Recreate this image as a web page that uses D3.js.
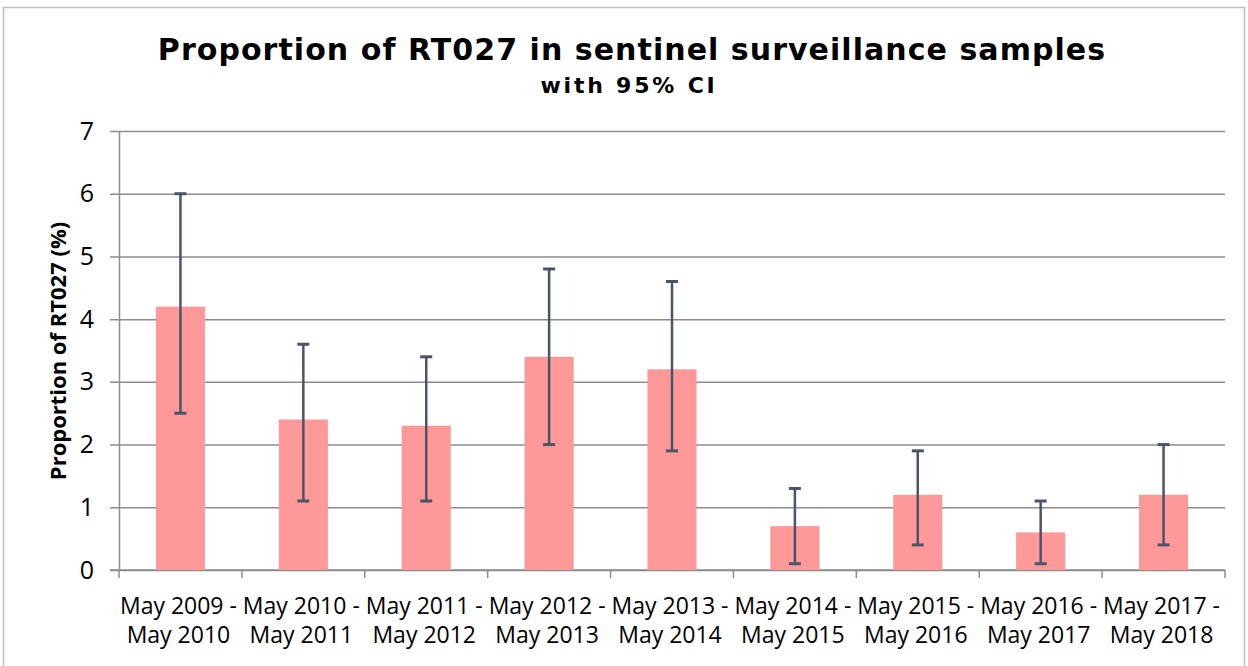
<!DOCTYPE html>
<html>
<head>
<meta charset="utf-8">
<script src="https://cdn.jsdelivr.net/npm/d3@7"></script>
<style>
  body { margin: 0; background: #fff; }
  svg { display: block; }
</style>
</head>
<body>
<div id="chart"></div>
<script>
const categories = [
    ['May 2009 -', 'May 2010'],
    ['May 2010 -', 'May 2011'],
    ['May 2011 -', 'May 2012'],
    ['May 2012 -', 'May 2013'],
    ['May 2013 -', 'May 2014'],
    ['May 2014 -', 'May 2015'],
    ['May 2015 -', 'May 2016'],
    ['May 2016 -', 'May 2017'],
    ['May 2017 -', 'May 2018']
]
const proportion = [4.2, 2.4, 2.3, 3.4, 3.2, 0.7, 1.2, 0.6, 1.2]
const ciLow = [2.5, 1.1, 1.1, 2.0, 1.9, 0.1, 0.4, 0.1, 0.4]
const ciHigh = [6.0, 3.6, 3.4, 4.8, 4.6, 1.3, 1.9, 1.1, 2.0]
const yTicks = [0, 1, 2, 3, 4, 5, 6, 7]

const W = 1248, H = 666
const margin = { left: 119, right: 23, top: 131, bottom: 96 }

const svg = d3.select('#chart')
    .append('svg')
    .attr('width', W)
    .attr('height', H)

// outer chart frame
svg.append('rect')
    .attr('x', 3.5)
    .attr('y', 7.5)
    .attr('width', 1241)
    .attr('height', 700)
    .style('fill', 'none')
    .style('stroke', '#bfbfbf')
    .style('stroke-width', '1.5px')

const keys = categories.map((d, i) => 'c' + i)

const x = d3.scaleBand()
    .domain(keys)
    .range([margin.left, W - margin.right])
    .padding(0)

const y = d3.scaleLinear()
    .domain([0, 7])
    .range([H - margin.bottom, margin.top])

const plotW = x.range()[1] - x.range()[0]

// y axis + gridlines
const yAxis = svg.append('g')
    .attr('transform', `translate(${margin.left},0)`)
    .call(d3.axisLeft(y)
        .tickValues(yTicks)
        .tickFormat(d3.format('d'))
        .tickSize(-plotW)
        .tickSizeOuter(0)
        .tickPadding(25))

yAxis.select('.domain')
    .style('stroke', '#8c8c8c')
    .style('stroke-width', '1.5px')
yAxis.selectAll('.tick line')
    .attr('x1', -9)
    .style('stroke', '#8c8c8c')
    .style('stroke-width', '1.5px')
yAxis.selectAll('.tick text')
    .style('font-family', '"Open Sans", sans-serif')
    .style('font-size', '25px')
    .style('fill', '#000')

// x axis line with ticks at category boundaries
const xAxis = svg.append('g')
xAxis.append('line')
    .attr('x1', x.range()[0] - 9)
    .attr('x2', x.range()[1])
    .attr('y1', y(0))
    .attr('y2', y(0))
    .style('stroke', '#8c8c8c')
    .style('stroke-width', '1.5px')

const bounds = keys.map(k => x(k)).concat([x.range()[1]])
xAxis.selectAll('.xtick')
    .data(bounds)
    .join('line')
    .attr('class', 'xtick')
    .attr('x1', d => d)
    .attr('x2', d => d)
    .attr('y1', y(0))
    .attr('y2', y(0) + 8)
    .style('stroke', '#8c8c8c')
    .style('stroke-width', '1.5px')

const xLabels = xAxis.selectAll('.xlabel')
    .data(categories)
    .join('text')
    .attr('class', 'xlabel')
    .attr('text-anchor', 'middle')
    .style('font-family', '"Open Sans", sans-serif')
    .style('font-size', '23px')
    .style('fill', '#000')

xLabels.append('tspan')
    .attr('x', (d, i) => x(keys[i]) + x.bandwidth() / 2 - 2)
    .attr('y', 614)
    .text(d => d[0])
xLabels.append('tspan')
    .attr('x', (d, i) => x(keys[i]) + x.bandwidth() / 2 - 2)
    .attr('y', 643)
    .text(d => d[1])

// bars
const barW = x.bandwidth() * 0.4
svg.selectAll('.bar')
    .data(proportion)
    .join('rect')
    .attr('class', 'bar')
    .attr('x', (d, i) => x(keys[i]) + (x.bandwidth() - barW) / 2)
    .attr('y', d => y(d))
    .attr('width', barW)
    .attr('height', d => y(0) - y(d))
    .style('fill', '#ff9999')

// error bars
const errColor = '#475569'
const cx = i => x(keys[i]) + x.bandwidth() / 2
const err = svg.append('g')
    .style('stroke', errColor)

err.selectAll('.whisker')
    .data(ciLow)
    .join('line')
    .attr('x1', (d, i) => cx(i))
    .attr('x2', (d, i) => cx(i))
    .attr('y1', d => y(d))
    .attr('y2', (d, i) => y(ciHigh[i]))
    .style('stroke-width', '2.5px')

err.selectAll('.capLow')
    .data(ciLow)
    .join('line')
    .attr('x1', (d, i) => cx(i) - 6)
    .attr('x2', (d, i) => cx(i) + 6)
    .attr('y1', d => y(d))
    .attr('y2', d => y(d))
    .style('stroke-width', '3px')

err.selectAll('.capHigh')
    .data(ciHigh)
    .join('line')
    .attr('x1', (d, i) => cx(i) - 6)
    .attr('x2', (d, i) => cx(i) + 6)
    .attr('y1', d => y(d))
    .attr('y2', d => y(d))
    .style('stroke-width', '3px')

// titles
svg.append('text')
    .attr('x', 632)
    .attr('y', 60)
    .attr('text-anchor', 'middle')
    .style('font-family', '"DejaVu Sans", Verdana, sans-serif')
    .style('font-weight', 'bold')
    .style('font-size', '30px')
    .style('letter-spacing', '1.05px')
    .text('Proportion of RT027 in sentinel surveillance samples')

svg.append('text')
    .attr('x', 629)
    .attr('y', 93)
    .attr('text-anchor', 'middle')
    .style('font-family', '"DejaVu Sans", Verdana, sans-serif')
    .style('font-weight', 'bold')
    .style('font-size', '22px')
    .style('letter-spacing', '2.8px')
    .text('with 95% CI')

svg.append('text')
    .attr('transform', 'translate(66,351) rotate(-90)')
    .attr('text-anchor', 'middle')
    .style('font-family', '"Open Sans", sans-serif')
    .style('font-weight', 'bold')
    .style('font-size', '22px')
    .text('Proportion of RT027 (%)')
</script>
</body>
</html>
